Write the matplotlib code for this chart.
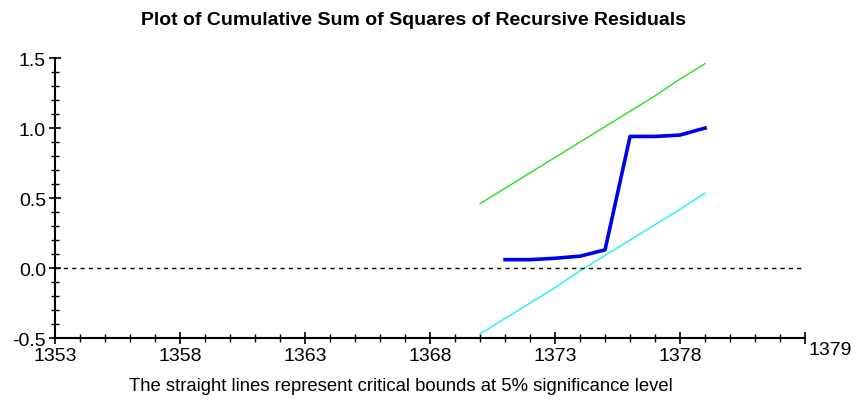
import numpy as np
import matplotlib.pyplot as plt
from matplotlib.ticker import MultipleLocator

plt.rcParams['font.family'] = ['Liberation Sans', 'DejaVu Sans']

# anni e serie
anni_bande = [1370, 1371, 1372, 1373, 1374, 1375, 1376, 1377, 1378, 1379]
banda_sup = [0.46, 0.57, 0.68, 0.79, 0.90, 1.01, 1.12, 1.23, 1.35, 1.46]
banda_inf = [-0.47, -0.36, -0.25, -0.14, -0.02, 0.09, 0.20, 0.31, 0.42, 0.535]

anni = [1371, 1372, 1373, 1374, 1375, 1376, 1377, 1378, 1379]
cusumsq = [0.06, 0.06, 0.07, 0.085, 0.13, 0.94, 0.94, 0.95, 1.0]

tick_x = [1353, 1358, 1363, 1368, 1373, 1378]
fine_asse = 1383

fig = plt.figure(figsize=(8.61, 4.10), dpi=100)
ax = fig.add_axes([0.064, 0.173, 0.871, 0.683])

ax.plot(anni_bande, banda_sup, color='#22e022', lw=1)
ax.plot(anni_bande, banda_inf, color='#22f0f0', lw=1)
ax.plot(anni, cusumsq, color='#0000ee', lw=2.6)
ax.axhline(0, color='black', lw=1, ls=(0, (3, 3)))

ax.set_xlim(1353, fine_asse)
ax.set_ylim(-0.5, 1.5)
ax.set_xticks(tick_x + [fine_asse])
ax.set_xticklabels([str(t) for t in tick_x] + [''])
ax.xaxis.set_minor_locator(MultipleLocator(1))
ax.yaxis.set_major_locator(MultipleLocator(0.5))
ax.yaxis.set_minor_locator(MultipleLocator(0.1))
ax.set_yticklabels(['%.1f' % v for v in ax.get_yticks()])

for s in ['top', 'right']:
    ax.spines[s].set_visible(False)
for s in ['left', 'bottom']:
    ax.spines[s].set_linewidth(1.5)

ax.tick_params(which='major', direction='inout', length=9, width=1.2, labelsize=14, pad=2)
ax.tick_params(which='minor', direction='inout', length=6, width=1)
ax.text(fine_asse + 1, -0.58, '1379', fontsize=14, ha='center', va='center',
        transform=ax.transData, clip_on=False)

fig.text(0.48, 0.95, 'Plot of Cumulative Sum of Squares of Recursive Residuals',
         ha='center', va='center', fontsize=14, fontweight='bold')
fig.text(0.466, 0.058, 'The straight lines represent critical bounds at 5% significance level',
         ha='center', va='center', fontsize=13.3)

plt.savefig('out.png', dpi=100)
